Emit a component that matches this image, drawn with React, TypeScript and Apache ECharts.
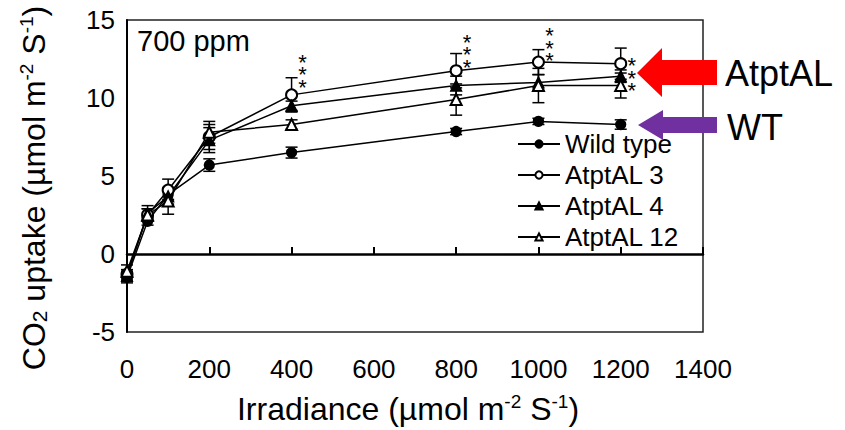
import React, { useEffect, useRef } from "react";
import * as echarts from "echarts";

const irradiance = [0, 50, 100, 200, 400, 800, 1000, 1200];
const wildType = [-1.5, 2.1, 3.8, 5.7, 6.5, 7.85, 8.5, 8.3];
const wildTypeErr = [0.35, 0.25, 0.3, 0.4, 0.35, 0.2, 0.2, 0.3];
const atptal3 = [-1.3, 2.5, 4.1, 7.5, 10.2, 11.75, 12.3, 12.2];
const atptal3Err = [0.3, 0.4, 0.7, 0.8, 1.1, 1.1, 0.8, 1.0];
const atptal4 = [-1.4, 2.6, 3.7, 7.3, 9.5, 10.8, 11.0, 11.4];
const atptal4Err = [0.3, 0.5, 0.5, 0.8, 0.3, 0.6, 0.5, 0.4];
const atptal12 = [-1.1, 2.5, 3.4, 7.8, 8.3, 9.9, 10.8, 10.8];
const atptal12Err = [0.4, 0.4, 0.85, 0.7, 0.3, 1.0, 1.1, 0.8];
const seriesNames = ["Wild type", "AtptAL 3", "AtptAL 4", "AtptAL 12"];
const sigX = [400, 800, 1000, 1200];
const sigY = [11.8, 13.1, 13.5, 11.6];
const xTicks = [0, 200, 400, 600, 800, 1000, 1200, 1400];
const yTicks = [-5, 0, 5, 10, 15];

const FONT = "'Liberation Sans', Arial, sans-serif";

export default function App() {
  const ref = useRef<HTMLDivElement>(null);
  useEffect(() => {
    if (!ref.current) return;
    const chart = echarts.init(ref.current, null, { renderer: "svg" });

    const values = [wildType, atptal3, atptal4, atptal12];
    const errs = [wildTypeErr, atptal3Err, atptal4Err, atptal12Err];
    const symbols = ["circle", "emptyCircle", "triangle", "emptyTriangle"];
    const sizes = [10, 11, 11, 11];

    const errorSeries = values.map((vals, si) => ({
      type: "custom",
      xAxisIndex: 0,
      yAxisIndex: 0,
      z: 2,
      silent: true,
      data: irradiance.map((x, i) => [x, vals[i], errs[si][i]]),
      renderItem: (params: any, api: any) => {
        const x = api.value(0);
        const y = api.value(1);
        const e = api.value(2);
        const hi = api.coord([x, y + e]);
        const lo = api.coord([x, y - e]);
        const w = 6;
        const st = { stroke: "#000", lineWidth: 1.5 };
        return {
          type: "group",
          children: [
            { type: "line", shape: { x1: hi[0], y1: hi[1], x2: lo[0], y2: lo[1] }, style: st },
            { type: "line", shape: { x1: hi[0] - w, y1: hi[1], x2: hi[0] + w, y2: hi[1] }, style: st },
            { type: "line", shape: { x1: lo[0] - w, y1: lo[1], x2: lo[0] + w, y2: lo[1] }, style: st },
          ],
        };
      },
    }));

    const lineSeries = values.map((vals, si) => ({
      name: seriesNames[si],
      type: "line",
      xAxisIndex: 0,
      yAxisIndex: 0,
      z: 3,
      data: irradiance.map((x, i) => [x, vals[i]]),
      symbol: symbols[si],
      symbolSize: sizes[si],
      showAllSymbol: true,
      lineStyle: { color: "#000", width: 1.5 },
      itemStyle: { color: "#000", borderColor: "#000", borderWidth: 1.3 },
    }));

    const starSeries = {
      type: "custom",
      xAxisIndex: 0,
      yAxisIndex: 0,
      z: 4,
      silent: true,
      data: sigX.map((x, i) => [x, sigY[i]]),
      renderItem: (params: any, api: any) => {
        const p = api.coord([api.value(0), api.value(1)]);
        return {
          type: "text",
          x: p[0] + 11,
          y: p[1] + 5,
          style: {
            text: "*\n*\n*",
            fontSize: 22,
            lineHeight: 12.5,
            fontFamily: FONT,
            fill: "#000",
            align: "center",
            verticalAlign: "middle",
          },
        };
      },
    };

    const supStyle = { fontSize: 19, fontFamily: FONT, color: "#000", padding: [0, 0, 15, 0] };
    const subStyle = { fontSize: 21, fontFamily: FONT, color: "#000", padding: [11, 0, 0, 0] };
    const baseName = { fontSize: 32, fontFamily: FONT, color: "#000" };

    chart.setOption({
      animation: false,
      backgroundColor: "#fff",
      grid: {
        left: 127,
        right: 142,
        top: 20,
        bottom: 97,
        show: true,
        borderColor: "#222",
        borderWidth: 1.5,
        backgroundColor: "transparent",
      },
      legend: {
        orient: "vertical",
        left: 512,
        top: 126,
        itemWidth: 42,
        itemHeight: 9,
        itemGap: 5,
        data: seriesNames,
        textStyle: { fontSize: 26, fontFamily: FONT, color: "#000" },
        selectedMode: false,
      },
      xAxis: [
        {
          type: "value",
          min: 0,
          max: 1400,
          interval: 200,
          axisLine: { onZero: true, lineStyle: { color: "#000", width: 2.5 } },
          axisTick: { show: true, inside: true, length: 7, lineStyle: { color: "#000", width: 2 } },
          axisLabel: { show: false },
          splitLine: { show: false },
        },
        {
          type: "value",
          min: 0,
          max: 1400,
          interval: 200,
          position: "bottom",
          axisLine: { show: false, onZero: false },
          axisTick: { show: false },
          splitLine: { show: false },
          axisLabel: {
            fontSize: 26,
            fontFamily: FONT,
            color: "#000",
            margin: 24,
            formatter: (v: number) => (xTicks.includes(v) ? String(v) : ""),
          },
          name: "{b|Irradiance (µmol m}{s|-2}{b| S}{s|-1}{b|)}",
          nameLocation: "middle",
          nameGap: 60,
          nameTextStyle: {
            ...baseName,
            padding: [0, 14, 0, 0],
            rich: { b: baseName, s: supStyle },
          },
        },
      ],
      yAxis: {
        type: "value",
        min: -5,
        max: 15,
        interval: 5,
        axisLine: { show: true, onZero: false, lineStyle: { color: "#000", width: 2 } },
        axisTick: { show: false },
        splitLine: { show: false },
        axisLabel: {
          fontSize: 26,
          fontFamily: FONT,
          color: "#000",
          margin: 12,
          formatter: (v: number) => (yTicks.includes(v) ? String(v) : ""),
        },
        name: "{b|CO}{d|2}{b| uptake (µmol m}{s|-2}{b| S}{s|-1}{b|)}",
        nameLocation: "middle",
        nameRotate: 90,
        nameGap: 76,
        nameTextStyle: {
          ...baseName,
          padding: [0, 24, 0, 0],
          rich: { b: baseName, s: supStyle, d: subStyle },
        },
      },
      graphic: [
        {
          type: "text",
          left: 137,
          top: 26,
          style: { text: "700 ppm", fontSize: 29, fontFamily: FONT, fill: "#000" },
          z: 10,
        },
        {
          type: "polygon",
          z: 20,
          shape: {
            points: [
              [637, 73], [662, 48], [662, 60], [717, 60], [717, 85], [662, 85], [662, 97],
            ],
          },
          style: { fill: "#ff0000" },
        },
        {
          type: "polygon",
          z: 20,
          shape: {
            points: [
              [638, 125], [663, 110], [663, 117], [717, 117], [717, 133], [663, 133], [663, 140],
            ],
          },
          style: { fill: "#7030a0" },
        },
        {
          type: "text",
          left: 725,
          top: 55,
          z: 20,
          style: { text: "AtptAL", fontSize: 36, fontFamily: FONT, fill: "#000" },
        },
        {
          type: "text",
          left: 727,
          top: 109,
          z: 20,
          style: { text: "WT", fontSize: 36, fontFamily: FONT, fill: "#000" },
        },
      ],
      series: [...errorSeries, ...lineSeries, starSeries],
    });
    return () => chart.dispose();
  }, []);
  return (
    <div
      ref={ref}
      style={{ position: "fixed", left: 0, top: 0, width: 845, height: 430, background: "#fff" }}
    />
  );
}
